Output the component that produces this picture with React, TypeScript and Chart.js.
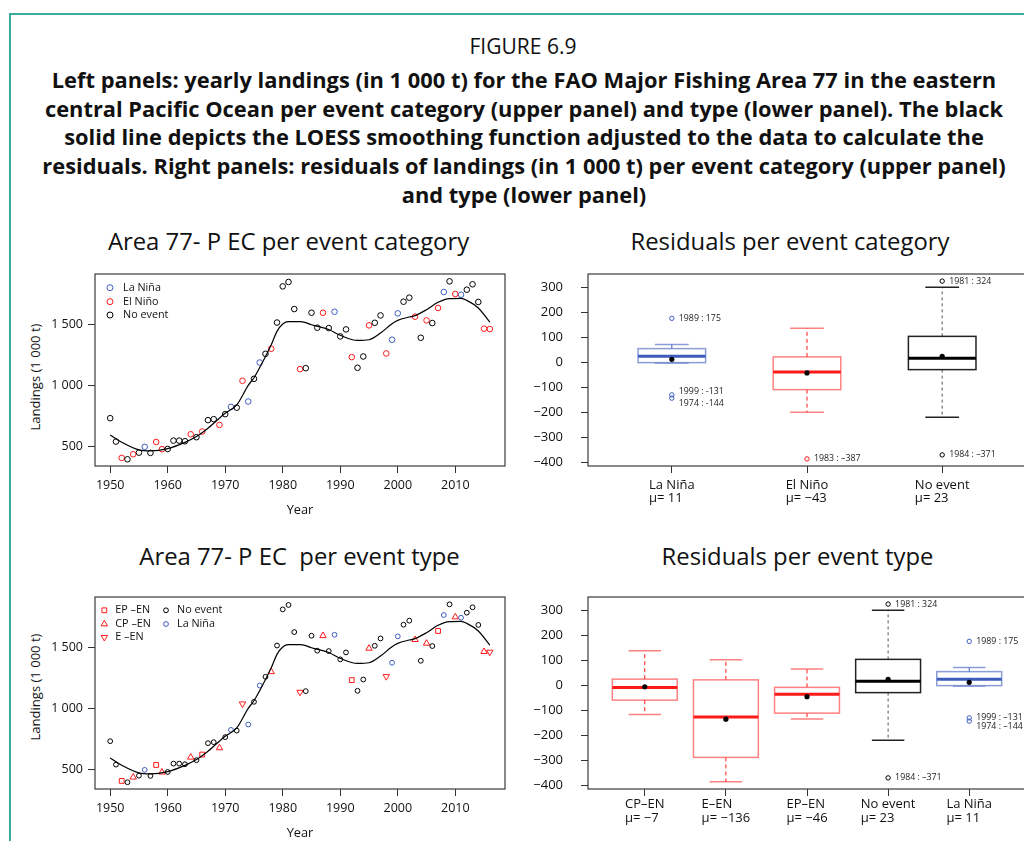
import React, { useEffect, useRef } from 'react';
import { Chart, registerables } from 'chart.js';

Chart.register(...registerables);

const FONT = '"Open Sans", "Noto Sans", "DejaVu Sans", sans-serif';
const INK = '#111111';
const BLUE = '#3d5cbd';
const RED = '#ff1a1a';
const TEAL = '#3aaa9e';

// ---------------- data: yearly landings (1 000 t), FAO Area 77 ----------------
const years = [
  1950, 1951, 1952, 1953, 1954, 1955, 1956, 1957, 1958, 1959,
  1960, 1961, 1962, 1963, 1964, 1965, 1966, 1967, 1968, 1969,
  1970, 1971, 1972, 1973, 1974, 1975, 1976, 1977, 1978, 1979,
  1980, 1981, 1982, 1983, 1984, 1985, 1986, 1987, 1988, 1989,
  1990, 1991, 1992, 1993, 1994, 1995, 1996, 1997, 1998, 1999,
  2000, 2001, 2002, 2003, 2004, 2005, 2006, 2007, 2008, 2009,
  2010, 2011, 2012, 2013, 2014, 2015, 2016,
];
const landings = [
  732, 541, 408, 397, 438, 451, 498, 449, 538, 479,
  481, 549, 549, 544, 601, 577, 623, 716, 724, 677,
  765, 824, 818, 1037, 868, 1053, 1186, 1257, 1298, 1512,
  1807, 1843, 1622, 1132, 1140, 1592, 1470, 1592, 1467, 1600,
  1399, 1456, 1230, 1143, 1235, 1489, 1510, 1570, 1260, 1372,
  1587, 1682, 1715, 1560, 1388, 1530, 1508, 1631, 1761, 1848,
  1745, 1739, 1780, 1824, 1680, 1462, 1459,
];
// event category: LN = La Niña, EN = El Niño, NO = no event
const eventCategory = [
  'NO', 'NO', 'EN', 'NO', 'EN', 'NO', 'LN', 'NO', 'EN', 'EN',
  'NO', 'NO', 'NO', 'NO', 'EN', 'NO', 'EN', 'NO', 'NO', 'EN',
  'NO', 'LN', 'NO', 'EN', 'LN', 'NO', 'LN', 'NO', 'EN', 'NO',
  'NO', 'NO', 'NO', 'EN', 'NO', 'NO', 'NO', 'EN', 'NO', 'LN',
  'NO', 'NO', 'EN', 'NO', 'NO', 'EN', 'NO', 'NO', 'EN', 'LN',
  'LN', 'NO', 'NO', 'EN', 'NO', 'EN', 'NO', 'EN', 'LN', 'NO',
  'EN', 'LN', 'NO', 'NO', 'NO', 'EN', 'EN',
];
// event type: EP = EP-EN, CP = CP-EN, E = E-EN, NO = no event, LN = La Niña
const eventType = [
  'NO', 'NO', 'EP', 'NO', 'CP', 'NO', 'LN', 'NO', 'EP', 'CP',
  'NO', 'NO', 'NO', 'NO', 'CP', 'NO', 'EP', 'NO', 'NO', 'CP',
  'NO', 'LN', 'NO', 'E', 'LN', 'NO', 'LN', 'NO', 'CP', 'NO',
  'NO', 'NO', 'NO', 'E', 'NO', 'NO', 'NO', 'CP', 'NO', 'LN',
  'NO', 'NO', 'EP', 'NO', 'NO', 'CP', 'NO', 'NO', 'E', 'LN',
  'LN', 'NO', 'NO', 'CP', 'NO', 'CP', 'NO', 'EP', 'LN', 'NO',
  'CP', 'LN', 'NO', 'NO', 'NO', 'CP', 'E',
];
// LOESS smoothing curve
const loessYears = [
  1950, 1952, 1955, 1957, 1960, 1963, 1965, 1967, 1970, 1972, 1974, 1975,
  1977, 1978, 1979, 1980, 1981, 1983, 1984, 1985, 1988, 1990, 1993, 1995,
  1997, 1999, 2000, 2002, 2003, 2005, 2007, 2009, 2011, 2012, 2014, 2016,
];
const loessValues = [
  595, 536, 473, 465, 484, 535, 582, 650, 773, 840, 1000, 1062,
  1235, 1331, 1440, 1500, 1519, 1519, 1511, 1494, 1455, 1408, 1366, 1372,
  1426, 1503, 1530, 1557, 1568, 1617, 1677, 1707, 1709, 1693, 1631, 1516,
];

const xTickYears = [1950, 1960, 1970, 1980, 1990, 2000, 2010];
const yTickLandings = [500, 1000, 1500];
const residualTicks = [-400, -300, -200, -100, 0, 100, 200, 300];

// ---------------- residual box plots per event category ----------------
const catNames = ['La Niña', 'El Niño', 'No event'];
const catMeanLabels = ['μ= 11', 'μ= −43', 'μ= 23'];
const catMeans = [11, -43, 23];
const catWhiskLow = [-4, -200, -220];
const catQ1 = [-2, -110, -30];
const catMedian = [23, -39, 15];
const catQ3 = [54, 21, 103];
const catWhiskHigh = [70, 135, 299];
const catOutGroup = [0, 0, 0, 1, 2, 2];
const catOutValues = [175, -131, -144, -387, 324, -371];
const catOutLabels = ['1989 : 175', '1999 : -131', '1974 : -144', '1983 : –387', '1981 : 324', '1984 : –371'];

// ---------------- residual box plots per event type ----------------
const typeNames = ['CP–EN', 'E–EN', 'EP–EN', 'No event', 'La Niña'];
const typeMeanLabels = ['μ= −7', 'μ= −136', 'μ= −46', 'μ= 23', 'μ= 11'];
const typeMeans = [-7, -136, -46, 23, 11];
const typeWhiskLow = [-117, -386, -135, -220, -4];
const typeQ1 = [-60, -289, -112, -30, -2];
const typeMedian = [-10, -127, -36, 15, 23];
const typeQ3 = [24, 21, -9, 103, 54];
const typeWhiskHigh = [137, 101, 64, 299, 70];
const typeOutGroup = [3, 3, 4, 4, 4];
const typeOutValues = [324, -371, 175, -131, -144];
const typeOutLabels = ['1981 : 324', '1984 : –371', '1989 : 175', '1999 : –131', '1974 : –144'];

// ---------------- styles ----------------
type Pal = { main: string; light: string; whisk: string; dash: number[] };
const PAL_BLUE: Pal = { main: BLUE, light: 'rgba(61,92,189,0.6)', whisk: BLUE, dash: [4, 3] };
const PAL_RED: Pal = { main: RED, light: 'rgba(255,26,26,0.55)', whisk: RED, dash: [4, 3] };
const PAL_BLACK: Pal = { main: '#000000', light: '#222222', whisk: '#555555', dash: [3, 3] };
const catPalettes = [PAL_BLUE, PAL_RED, PAL_BLACK];
const typePalettes = [PAL_RED, PAL_RED, PAL_RED, PAL_BLACK, PAL_BLUE];
const catOutShift = [0, -3.6, 5, 0, 0, 0];
const typeOutShift = [0, 0, 0, -0.7, 5];

const fmtThousands = (v: number) =>
  v >= 1000 ? `${Math.floor(v / 1000)} ${String(v % 1000).padStart(3, '0')}` : String(v);
const fmtMinus = (v: number) => (v < 0 ? '−' + Math.abs(v) : String(v));

function drawMarker(ctx: CanvasRenderingContext2D, style: string, x: number, y: number, r: number, rot: number, color: string) {
  ctx.save();
  ctx.strokeStyle = color;
  ctx.lineWidth = 1;
  ctx.beginPath();
  if (style === 'rect') {
    const s = r * Math.SQRT1_2;
    ctx.rect(x - s, y - s, 2 * s, 2 * s);
  } else if (style === 'triangle') {
    let rad = (rot * Math.PI) / 180;
    ctx.moveTo(x + Math.sin(rad) * r, y - Math.cos(rad) * r);
    rad += (2 * Math.PI) / 3;
    ctx.lineTo(x + Math.sin(rad) * r, y - Math.cos(rad) * r);
    rad += (2 * Math.PI) / 3;
    ctx.lineTo(x + Math.sin(rad) * r, y - Math.cos(rad) * r);
    ctx.closePath();
  } else {
    ctx.arc(x, y, r, 0, Math.PI * 2);
  }
  ctx.stroke();
  ctx.restore();
}

const framePlugin = {
  id: 'frame',
  afterDraw(chart: any) {
    const { ctx, chartArea: a } = chart;
    ctx.save();
    ctx.strokeStyle = '#3a3a3a';
    ctx.lineWidth = 1.2;
    ctx.strokeRect(a.left, a.top, a.right - a.left, a.bottom - a.top);
    ctx.restore();
  },
};

const axisGrid = { drawOnChartArea: false, drawTicks: true, tickLength: 7, color: '#333333', lineWidth: 1 };

const fixHeight = (h: number) => (s: any) => {
  s.height = h;
  s.paddingLeft = 0; s.paddingRight = 0; s.paddingTop = 0; s.paddingBottom = 0;
};
const fixWidth = (w: number) => (s: any) => {
  s.width = w;
  s.paddingLeft = 0; s.paddingRight = 0; s.paddingTop = 0; s.paddingBottom = 0;
};

type LegendLayout = { cols: number[]; textDx: number; rows: number[]; font: number };

function makeScatter(canvas: HTMLCanvasElement, datasets: any[], legend: LegendLayout) {
  const legendPlugin = {
    id: 'innerLegend',
    afterDraw(chart: any) {
      const { ctx, chartArea } = chart;
      ctx.save();
      ctx.font = `${legend.font}px ${FONT}`;
      ctx.textBaseline = 'middle';
      ctx.fillStyle = INK;
      chart.data.datasets.forEach((ds: any) => {
        if (ds.legendCol === undefined) return;
        const x = chartArea.left + legend.cols[ds.legendCol];
        const y = chartArea.top + legend.rows[ds.legendRow];
        drawMarker(ctx, ds.pointStyle, x, y, ds.legendRadius, ds.pointRotation || 0, ds.pointBorderColor);
        ctx.fillText(ds.label, x + legend.textDx, y);
      });
      ctx.restore();
    },
  };
  return new Chart(canvas, {
    type: 'scatter',
    data: { datasets },
    options: {
      responsive: false,
      animation: false,
      events: [],
      layout: { padding: { top: 8, right: 15, left: 0, bottom: 0 } },
      plugins: { legend: { display: false }, tooltip: { enabled: false } },
      scales: {
        x: {
          type: 'linear',
          min: 1947.36,
          max: 2018.64,
          afterBuildTicks: (s: any) => { s.ticks = xTickYears.map((v) => ({ value: v })); },
          afterFit: fixHeight(58),
          grid: axisGrid,
          border: { display: false },
          ticks: { color: INK, font: { family: FONT, size: 12.5 }, padding: 5, maxRotation: 0, autoSkip: false, callback: (v: any) => String(v) },
          title: { display: true, text: 'Year', color: INK, font: { family: FONT, size: 12.8 }, padding: { top: 0, bottom: 6 } },
        },
        y: {
          type: 'linear',
          min: 342,
          max: 1908,
          afterBuildTicks: (s: any) => { s.ticks = yTickLandings.map((v) => ({ value: v })); },
          afterFit: fixWidth(75),
          grid: axisGrid,
          border: { display: false },
          ticks: { color: INK, font: { family: FONT, size: 12.5 }, padding: 5, autoSkip: false, callback: (v: any) => fmtThousands(Number(v)) },
        },
      },
    } as any,
    plugins: [framePlugin, legendPlugin],
  });
}

type BoxSpec = {
  names: string[]; meanLabels: string[]; means: number[];
  lo: number[]; q1: number[]; med: number[]; q3: number[]; hi: number[];
  outGroup: number[]; outValues: number[]; outLabels: string[]; outShift: number[];
  palettes: Pal[]; boxWidth: number; xMin: number; xMax: number; labelDy: number[];
};

function makeBoxes(canvas: HTMLCanvasElement, spec: BoxSpec) {
  const boxPlugin = {
    id: 'boxes',
    beforeDatasetsDraw(chart: any) {
      const { ctx } = chart;
      const xs = chart.scales.x;
      const ys = chart.scales.y;
      spec.names.forEach((_, i) => {
        const p = spec.palettes[i];
        const cx = xs.getPixelForValue(i + 1);
        const half = xs.getPixelForValue(i + 1 + spec.boxWidth / 2) - cx;
        const yLo = ys.getPixelForValue(spec.lo[i]);
        const yQ1 = ys.getPixelForValue(spec.q1[i]);
        const yMed = ys.getPixelForValue(spec.med[i]);
        const yQ3 = ys.getPixelForValue(spec.q3[i]);
        const yHi = ys.getPixelForValue(spec.hi[i]);
        ctx.save();
        // whiskers
        ctx.strokeStyle = p.whisk;
        ctx.lineWidth = 1;
        ctx.setLineDash(p.dash);
        ctx.beginPath();
        ctx.moveTo(cx, yQ3); ctx.lineTo(cx, yHi);
        ctx.moveTo(cx, yQ1); ctx.lineTo(cx, yLo);
        ctx.stroke();
        ctx.setLineDash([]);
        // staples
        ctx.strokeStyle = p.light;
        ctx.lineWidth = 1.5;
        ctx.beginPath();
        ctx.moveTo(cx - half / 2, yHi); ctx.lineTo(cx + half / 2, yHi);
        ctx.moveTo(cx - half / 2, yLo); ctx.lineTo(cx + half / 2, yLo);
        ctx.stroke();
        // box
        ctx.fillStyle = '#ffffff';
        ctx.fillRect(cx - half, yQ3, 2 * half, yQ1 - yQ3);
        ctx.strokeStyle = p.light;
        ctx.lineWidth = 1.5;
        ctx.strokeRect(cx - half, yQ3, 2 * half, yQ1 - yQ3);
        // median
        ctx.strokeStyle = p.main;
        ctx.lineWidth = 3;
        ctx.beginPath();
        ctx.moveTo(cx - half, yMed); ctx.lineTo(cx + half, yMed);
        ctx.stroke();
        ctx.restore();
      });
    },
    afterDraw(chart: any) {
      const { ctx, chartArea } = chart;
      const xs = chart.scales.x;
      const ys = chart.scales.y;
      ctx.save();
      // outlier labels
      ctx.font = `8.8px ${FONT}`;
      ctx.fillStyle = '#222222';
      ctx.textBaseline = 'middle';
      ctx.textAlign = 'left';
      spec.outValues.forEach((v, i) => {
        const px = xs.getPixelForValue(spec.outGroup[i] + 1);
        const py = ys.getPixelForValue(v);
        ctx.fillText(spec.outLabels[i], px + 7, py + spec.outShift[i]);
      });
      // category labels (two lines, left-aligned block centred on tick)
      ctx.font = `13px ${FONT}`;
      ctx.fillStyle = INK;
      spec.names.forEach((name, i) => {
        const cx = xs.getPixelForValue(i + 1);
        const w = Math.max(ctx.measureText(name).width, ctx.measureText(spec.meanLabels[i]).width);
        const left = cx - w / 2;
        ctx.fillText(name, left, chartArea.bottom + spec.labelDy[0]);
        ctx.fillText(spec.meanLabels[i], left, chartArea.bottom + spec.labelDy[1]);
      });
      ctx.restore();
    },
  };
  return new Chart(canvas, {
    type: 'scatter',
    data: {
      datasets: [
        {
          label: 'outliers',
          data: spec.outValues.map((v, i) => ({ x: spec.outGroup[i] + 1, y: v })),
          pointStyle: 'circle',
          pointRadius: 2.2,
          pointBorderWidth: 1,
          pointBorderColor: spec.outGroup.map((g) => spec.palettes[g].main),
          pointBackgroundColor: 'rgba(0,0,0,0)',
        },
        {
          label: 'mean',
          data: spec.means.map((v, i) => ({ x: i + 1, y: v })),
          pointStyle: 'circle',
          pointRadius: 2.6,
          pointBorderWidth: 0,
          pointBorderColor: '#000000',
          pointBackgroundColor: '#000000',
        },
      ],
    },
    options: {
      responsive: false,
      animation: false,
      events: [],
      layout: { padding: { top: 8, right: 24, left: 0, bottom: 0 } },
      plugins: { legend: { display: false }, tooltip: { enabled: false } },
      scales: {
        x: {
          type: 'linear',
          min: spec.xMin,
          max: spec.xMax,
          afterBuildTicks: (s: any) => { s.ticks = spec.names.map((_, i) => ({ value: i + 1 })); },
          afterFit: fixHeight(58),
          grid: axisGrid,
          border: { display: false },
          ticks: { callback: () => '', autoSkip: false, maxRotation: 0 },
        },
        y: {
          type: 'linear',
          min: -415.4,
          max: 352.4,
          afterBuildTicks: (s: any) => { s.ticks = residualTicks.map((v) => ({ value: v })); },
          afterFit: fixWidth(68),
          grid: axisGrid,
          border: { display: false },
          ticks: { color: INK, font: { family: FONT, size: 13 }, padding: 18, autoSkip: false, callback: (v: any) => fmtMinus(Number(v)) },
        },
      },
    } as any,
    plugins: [boxPlugin, framePlugin],
  });
}

function pointsFor(codes: string[], code: string) {
  const out: { x: number; y: number }[] = [];
  years.forEach((yr, i) => { if (codes[i] === code) out.push({ x: yr, y: landings[i] }); });
  return out;
}

const loessDataset = () => ({
  type: 'line',
  label: 'LOESS',
  data: loessYears.map((yr, i) => ({ x: yr, y: loessValues[i] })),
  borderColor: '#000000',
  borderWidth: 1.2,
  pointRadius: 0,
  cubicInterpolationMode: 'monotone',
  showLine: true,
  fill: false,
});

function pointDs(label: string, data: any[], color: string, style: string, r: number, legendCol: number, legendRow: number, legendRadius: number, rot = 0) {
  return {
    label,
    data,
    pointStyle: style,
    pointRadius: r,
    pointRotation: rot,
    pointBorderWidth: 1,
    pointBorderColor: color,
    pointBackgroundColor: 'rgba(0,0,0,0)',
    showLine: false,
    legendCol,
    legendRow,
    legendRadius,
  };
}

function fitSize(texts: string[], weight: string, targets: number[]): number {
  const ctx = document.createElement('canvas').getContext('2d');
  if (!ctx) return 18;
  ctx.font = `${weight} 100px ${FONT}`;
  const measured = texts.reduce((s, t) => s + ctx.measureText(t).width, 0);
  const target = targets.reduce((s, t) => s + t, 0);
  return (100 * target) / measured;
}

const headerLines = [
  'Left panels: yearly landings (in 1 000 t) for the FAO Major Fishing Area 77 in the eastern',
  'central Pacific Ocean per event category (upper panel) and type (lower panel). The black',
  'solid line depicts the LOESS smoothing function adjusted to the data to calculate the',
  'residuals. Right panels: residuals of landings (in 1 000 t) per event category (upper panel)',
  'and type (lower panel)',
];
const panelTitles = [
  'Area 77- P EC per event category',
  'Residuals per event category',
  'Area 77- P EC  per event type',
  'Residuals per event type',
];
const panelTitleWidths = [365, 316, 323, 269];
const panelTitleCenters = [[288.5, 242], [790, 242], [299.5, 557], [797.5, 557]];
const headerCentersY = [80, 108.5, 137, 166, 195];

export default function App() {
  const tlRef = useRef<HTMLCanvasElement>(null);
  const trRef = useRef<HTMLCanvasElement>(null);
  const blRef = useRef<HTMLCanvasElement>(null);
  const brRef = useRef<HTMLCanvasElement>(null);

  const headerSize = fitSize([headerLines[0]], '700', [945]);
  const figSize = fitSize(['FIGURE 6.9'], '400', [107]);
  const titleSize = fitSize(panelTitles, '400', panelTitleWidths);
  const ylabSize = fitSize(['Landings (1 000 t)'], '400', [107]);

  useEffect(() => {
    const charts: Chart[] = [];
    if (tlRef.current) {
      charts.push(
        makeScatter(
          tlRef.current,
          [
            loessDataset(),
            pointDs('No event', pointsFor(eventCategory, 'NO'), '#000000', 'circle', 2.8, 0, 2, 3),
            pointDs('El Niño', pointsFor(eventCategory, 'EN'), RED, 'circle', 2.8, 0, 1, 3),
            pointDs('La Niña', pointsFor(eventCategory, 'LN'), BLUE, 'circle', 2.8, 0, 0, 3),
          ],
          { cols: [15], textDx: 13, rows: [13.7, 27.7, 41], font: 10.8 },
        ),
      );
    }
    if (blRef.current) {
      charts.push(
        makeScatter(
          blRef.current,
          [
            loessDataset(),
            pointDs('No event', pointsFor(eventType, 'NO'), '#000000', 'circle', 2.4, 1, 0, 2.4),
            pointDs('La Niña', pointsFor(eventType, 'LN'), BLUE, 'circle', 2.4, 1, 1, 2.4),
            pointDs('EP –EN', pointsFor(eventType, 'EP'), RED, 'rect', 3.4, 0, 0, 3.4),
            pointDs('CP –EN', pointsFor(eventType, 'CP'), RED, 'triangle', 3.7, 0, 1, 3.7),
            pointDs('E –EN', pointsFor(eventType, 'E'), RED, 'triangle', 3.7, 0, 2, 3.7, 180),
          ],
          { cols: [9.3, 71], textDx: 11, rows: [13.3, 27, 40.3], font: 10.8 },
        ),
      );
    }
    if (trRef.current) {
      charts.push(
        makeBoxes(trRef.current, {
          names: catNames, meanLabels: catMeanLabels, means: catMeans,
          lo: catWhiskLow, q1: catQ1, med: catMedian, q3: catQ3, hi: catWhiskHigh,
          outGroup: catOutGroup, outValues: catOutValues, outLabels: catOutLabels, outShift: catOutShift,
          palettes: catPalettes, boxWidth: 0.5, xMin: 0.38, xMax: 3.62, labelDy: [19.7, 32.3],
        }),
      );
    }
    if (brRef.current) {
      charts.push(
        makeBoxes(brRef.current, {
          names: typeNames, meanLabels: typeMeanLabels, means: typeMeans,
          lo: typeWhiskLow, q1: typeQ1, med: typeMedian, q3: typeQ3, hi: typeWhiskHigh,
          outGroup: typeOutGroup, outValues: typeOutValues, outLabels: typeOutLabels, outShift: typeOutShift,
          palettes: typePalettes, boxWidth: 0.8, xMin: 0.3, xMax: 5.7, labelDy: [15.4, 29.3],
        }),
      );
    }
    return () => charts.forEach((c) => c.destroy());
  }, []);

  const abs = (left: number, top: number): React.CSSProperties => ({ position: 'absolute', left, top });

  return (
    <div
      style={{
        position: 'absolute', left: 0, top: 0, width: 1024, height: 841, overflow: 'hidden',
        background: '#ffffff', fontFamily: FONT, color: INK,
      }}
    >
      <div
        style={{
          position: 'absolute', left: 9, top: 13, width: 1200, height: 1000,
          borderLeft: `2px solid ${TEAL}`, borderTop: `2px solid ${TEAL}`,
        }}
      />
      <div
        style={{
          position: 'absolute', left: 523, top: 47, transform: 'translate(-50%, -50%)',
          whiteSpace: 'pre', fontSize: figSize, lineHeight: 1, fontWeight: 400,
        }}
      >
        FIGURE 6.9
      </div>
      {headerLines.map((t, i) => (
        <div
          key={i}
          style={{
            position: 'absolute', left: 524, top: headerCentersY[i], transform: 'translate(-50%, -50%)',
            whiteSpace: 'pre', fontSize: headerSize, lineHeight: 1, fontWeight: 700,
          }}
        >
          {t}
        </div>
      ))}
      {panelTitles.map((t, i) => (
        <div
          key={'p' + i}
          style={{
            position: 'absolute', left: panelTitleCenters[i][0], top: panelTitleCenters[i][1],
            transform: 'translate(-50%, -50%)', whiteSpace: 'pre', fontSize: titleSize, lineHeight: 1,
          }}
        >
          {t}
        </div>
      ))}
      {[376.7, 686.7].map((cy, i) => (
        <div
          key={'yl' + i}
          style={{
            position: 'absolute', left: 36, top: cy, transform: 'translate(-50%, -50%) rotate(-90deg)',
            whiteSpace: 'pre', fontSize: ylabSize, lineHeight: 1,
          }}
        >
          Landings (1 000 t)
        </div>
      ))}
      <canvas ref={tlRef} width={500} height={258} style={abs(20, 266)} />
      <canvas ref={trRef} width={530} height={258} style={abs(520, 266)} />
      <canvas ref={blRef} width={500} height={258} style={abs(20, 589)} />
      <canvas ref={brRef} width={530} height={258} style={abs(520, 589)} />
    </div>
  );
}
